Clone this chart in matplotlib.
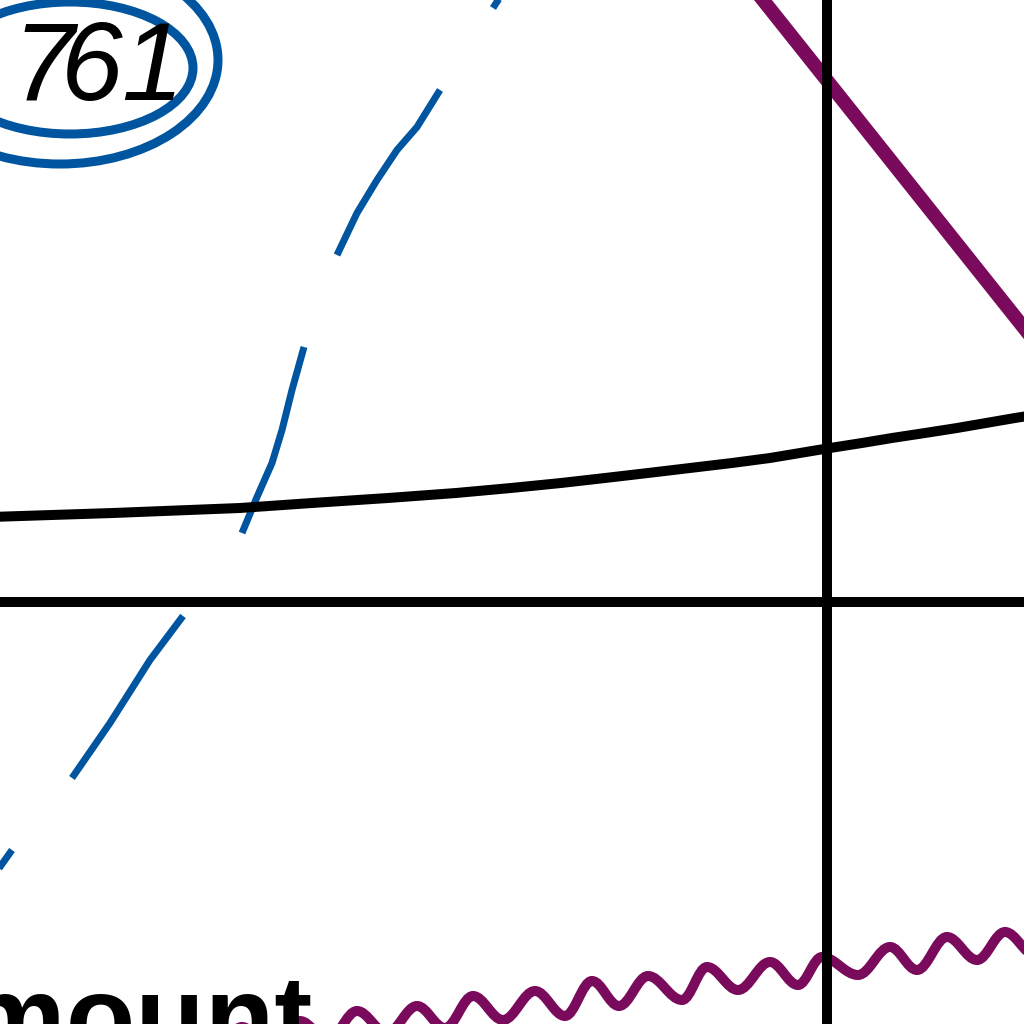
import matplotlib.pyplot as plt
from matplotlib.patches import Ellipse, PathPatch
from matplotlib.path import Path

# all positions are in pixels of the 1024 x 1024 crop, y grows downwards
PX = 0.72  # points per pixel at dpi 100

BLACK = "#000000"
BLUE = "#0055A0"
PURPLE = "#7A0A5C"

# straight reference axes
axis_x = 827
axis_y = 602

# slowly rising black curve
curve_x = [-40, 113, 240, 312, 388, 456, 511, 561, 605, 648, 690, 732, 770,
           830, 862, 892, 925, 957, 986, 1015, 1040]
curve_y = [518, 513, 508, 503, 498, 493, 488, 483, 478, 473, 468, 463, 458,
           448, 443, 438, 433, 428, 423, 418, 414]

# dashed blue curve, one entry per visible dash
dash_x = [
    [-20, 12],
    [72, 110, 150, 183],
    [242, 257, 272, 282, 292, 304],
    [337, 357, 377, 397, 417, 440],
    [493, 502],
]
dash_y = [
    [895, 850],
    [778, 723, 660, 616],
    [533, 497, 463, 430, 390, 347],
    [255, 213, 180, 150, 127, 90],
    [8, -6],
]

# steep purple line
steep_x = [755, 1032]
steep_y = [-10, 338]

# purple wavy line: alternating crests and troughs
wave_x = [185, 213, 242, 270, 300, 328, 357, 387, 417, 445, 473, 503, 535,
          565, 592, 619, 648, 682, 707, 738, 770, 798, 822, 858, 890, 917,
          947, 977, 1005, 1035]
wave_y = [1035, 1055, 1027, 1048, 1021, 1040, 1011, 1033, 1006, 1028, 996,
          1020, 991, 1016, 981, 1006, 976, 1000, 967, 990, 962, 985, 957,
          975, 947, 970, 937, 960, 932, 955]

# circled label, written glyph by glyph (the hand lettering is tightly set)
label_chars = ["1", "7", "6", "1"]
label_x = [-54, 12, 61, 121]
label_y = 100
ring_centers = [(70, 68), (60, 60)]
ring_sizes = [(246, 132), (316, 208)]

word_text = "amount"


def wave_path(xs, ys, k=0.36):
    verts = [(xs[0], ys[0])]
    codes = [Path.MOVETO]
    for i in range(len(xs) - 1):
        dx = xs[i + 1] - xs[i]
        verts += [(xs[i] + k * dx, ys[i]), (xs[i + 1] - k * dx, ys[i + 1]), (xs[i + 1], ys[i + 1])]
        codes += [Path.CURVE4] * 3
    return Path(verts, codes)


fig = plt.figure(figsize=(10.24, 10.24), dpi=100)
ax = fig.add_axes([0, 0, 1, 1])
ax.set_xlim(0, 1024)
ax.set_ylim(1024, 0)
ax.axis("off")

ax.axvline(axis_x, color=BLACK, lw=10 * PX, zorder=3)
ax.axhline(axis_y, color=BLACK, lw=10 * PX, zorder=3)
ax.plot(curve_x, curve_y, color=BLACK, lw=10 * PX, zorder=3, solid_capstyle="butt")

for xs, ys in zip(dash_x, dash_y):
    ax.plot(xs, ys, color=BLUE, lw=7 * PX, zorder=2, solid_capstyle="butt")

ax.plot(steep_x, steep_y, color=PURPLE, lw=14 * PX, zorder=2)

ax.add_patch(PathPatch(wave_path(wave_x, wave_y), facecolor="none",
                       edgecolor=PURPLE, lw=10 * PX, zorder=2))

for (cx, cy), (w, h) in zip(ring_centers, ring_sizes):
    ax.add_patch(Ellipse((cx, cy), w, h, facecolor="none", edgecolor=BLUE,
                         lw=9 * PX, zorder=2))

for ch, x in zip(label_chars, label_x):
    ax.text(x, label_y, ch, fontsize=80, style="italic",
            family=["Liberation Sans", "DejaVu Sans"],
            ha="left", va="baseline", color=BLACK, zorder=4)

ax.text(-98, 1055, word_text, fontsize=82, fontweight="bold",
        family=["Liberation Sans", "DejaVu Sans"], ha="left", va="baseline",
        color=BLACK, zorder=4)

fig.savefig("out.png", dpi=100, facecolor="white")
